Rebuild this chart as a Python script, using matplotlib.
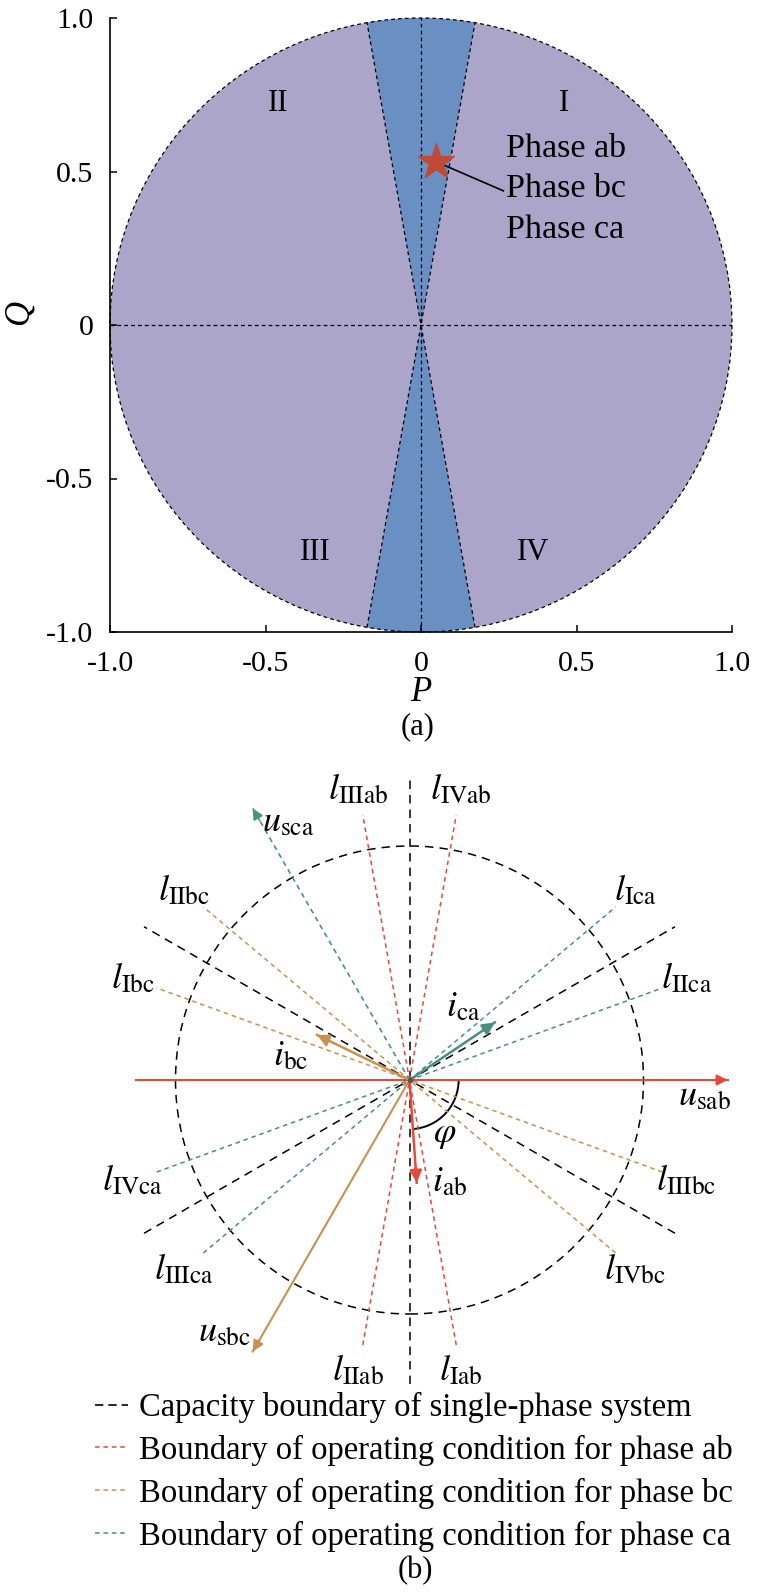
import numpy as np
import matplotlib
matplotlib.use('Agg')
import matplotlib.pyplot as plt
from matplotlib.patches import Circle, Wedge, Arc
from matplotlib.lines import Line2D

plt.rcParams['font.family'] = ['Liberation Serif', 'DejaVu Serif']
plt.rcParams['mathtext.fontset'] = 'stix'

# ---- panel (a) data ----
tick_values = [-1.0, -0.5, 0, 0.5, 1.0]
tick_labels = ['-1.0', '-0.5', '0', '0.5', '1.0']
wedge_half_angle = 10          # deg, blue sector each side of the Q axis
operating_point = (0.048, 0.532)
pointer_end = (0.265, 0.437)
phase_names = ['Phase ab', 'Phase bc', 'Phase ca']
region_names = ['I', 'II', 'III', 'IV']
region_pos = [(0.46, 0.72), (-0.46, 0.72), (-0.34, -0.74), (0.36, -0.74)]

# ---- panel (b) data ----
capacity_angles = [90, 30, 150]
capacity_half_len = [1.30, 1.31, 1.31]
boundary_angles = {'ab': [80, 100], 'bc': [140, 160], 'ca': [20, 40]}
boundary_half_len = 1.15
# label of each end of the boundary lines (direction in deg -> name)
boundary_ends = {80: 'IVab', 260: 'IIab', 100: 'IIIab', 280: 'Iab',
                 140: 'IIbc', 320: 'IVbc', 160: 'Ibc', 340: 'IIIbc',
                 40: 'Ica', 220: 'IIIca', 20: 'IIca', 200: 'IVca'}
voltage_angles = {'ab': 0, 'bc': 240, 'ca': 120}
voltage_len = {'ab': 1.36, 'bc': 1.34, 'ca': 1.34}
usab_tail = 1.17
phi = 86
current_angles = {'ab': -phi, 'bc': -phi - 120, 'ca': -phi + 120}
current_len = 0.44

legend_labels = ['Capacity boundary of single-phase system',
                 'Boundary of operating condition for phase ab',
                 'Boundary of operating condition for phase bc',
                 'Boundary of operating condition for phase ca']

purple = '#aba5c9'
blue = '#6a8fc2'
star_c = '#c04a35'
phase_colors = {'ab': '#e5493a', 'bc': '#c8914f', 'ca': '#48907f'}
fine_dash = (0, (3, 2.5))
big_dash = (0, (5.5, 4))

W, H = 757, 1594
fig = plt.figure(figsize=(W / 100, H / 100), dpi=100)

# ================= (a) =================
ax1 = fig.add_axes([110 / W, 962 / H, 622 / W, 614 / H])
ax1.add_patch(Circle((0, 0), 1, facecolor=purple, edgecolor='none'))
w = wedge_half_angle
for t1, t2 in [(90 - w, 90 + w), (270 - w, 270 + w)]:
    ax1.add_patch(Wedge((0, 0), 1, t1, t2, facecolor=blue, edgecolor='none'))
ax1.add_patch(Circle((0, 0), 1, fill=False, edgecolor='k', lw=0.9,
                     linestyle=fine_dash, clip_on=False))
ax1.plot([-1, 1], [0, 0], color='k', lw=0.9, ls=fine_dash)
ax1.plot([0, 0], [-1, 1], color='k', lw=0.9, ls=fine_dash)
for a in [90 - w, 90 + w]:
    r = np.deg2rad(a)
    ax1.plot([-np.cos(r), np.cos(r)], [-np.sin(r), np.sin(r)],
             color='k', lw=0.9, ls=fine_dash)

ax1.plot([operating_point[0], pointer_end[0]], [operating_point[1], pointer_end[1]],
         color='k', lw=1.2, zorder=4)
ax1.plot(*operating_point, marker='*', ms=27, color=star_c, mec=star_c, zorder=5)
for i, name in enumerate(phase_names):
    ax1.text(0.272, 0.574 - i * 0.1315, name, fontsize=24.5, ha='left', va='center')
for name, (x, y) in zip(region_names, region_pos):
    ax1.text(x, y, name, fontsize=22, ha='center', va='center')

ax1.set_xlim(-1, 1)
ax1.set_ylim(-1, 1)
ax1.set_xticks(tick_values)
ax1.set_xticklabels(tick_labels)
ax1.set_yticks(tick_values)
ax1.set_yticklabels(tick_labels)
for s in ['top', 'right']:
    ax1.spines[s].set_visible(False)
for s in ['left', 'bottom']:
    ax1.spines[s].set_linewidth(1.2)
ax1.tick_params(direction='in', length=5, width=1.1, labelsize=21.5)
ax1.tick_params(axis='x', pad=14)
ax1.tick_params(axis='y', pad=12)
fig.text(421 / W, 1 - 692 / H, 'P', fontstyle='italic', fontsize=25, ha='center', va='center')
fig.text(19 / W, 1 - 312 / H, 'Q', fontstyle='italic', fontsize=25, ha='center', va='center',
         rotation=90)
fig.text(418 / W, 1 - 727 / H, '(a)', fontsize=22, ha='center', va='center')

# ================= (b) =================
R = 234.0
cx, cy = 409.5, 1080.0
top_px = 770
ax2 = fig.add_axes([0, 0, 1, (H - top_px) / H])
ax2.set_xlim(-cx / R, (W - cx) / R)
ax2.set_ylim(-(H - cy) / R, (cy - top_px) / R)
ax2.axis('off')


def polar(ang, r):
    t = np.deg2rad(ang)
    return r * np.cos(t), r * np.sin(t)


ax2.add_patch(Circle((0, 0), 1, fill=False, edgecolor='k', lw=1.1, linestyle=big_dash))
for a, L in zip(capacity_angles, capacity_half_len):
    x, y = polar(a, L)
    ax2.plot([-x, x], [-y, y], color='k', lw=1.1, ls=big_dash)

for ph, angs in boundary_angles.items():
    for a in angs:
        x, y = polar(a, boundary_half_len)
        ax2.plot([-x, x], [-y, y], color=phase_colors[ph], lw=1.1, ls=fine_dash)

for a, name in boundary_ends.items():
    x, y = polar(a, 1.26)
    ax2.text(x, y, r'$l_{\mathrm{%s}}$' % name, fontsize=26, ha='center', va='center')


def arrow(p0, p1, color, ls='-', lw=1.5, ms=16):
    ax2.plot([p0[0], p1[0]], [p0[1], p1[1]], color=color, lw=lw, ls=ls)
    d = np.array(p1) - np.array(p0)
    back = np.array(p1) - d / np.linalg.norm(d) * 0.06
    ax2.annotate('', xy=p1, xytext=tuple(back),
                 arrowprops=dict(arrowstyle='-|>', color=color, lw=lw,
                                 mutation_scale=ms, shrinkA=0, shrinkB=0))


# voltages
arrow(polar(180, usab_tail), polar(voltage_angles['ab'], voltage_len['ab']),
      phase_colors['ab'], lw=1.5)
arrow((0, 0), polar(voltage_angles['bc'], voltage_len['bc']), phase_colors['bc'], lw=1.5)
arrow((0, 0), polar(voltage_angles['ca'], voltage_len['ca']), phase_colors['ca'],
      ls=fine_dash, lw=1.2)
# currents
for ph in ['ab', 'bc', 'ca']:
    arrow((0, 0), polar(current_angles[ph], current_len), phase_colors[ph], lw=1.8, ms=18)

ax2.add_patch(Arc((0, 0), 0.42, 0.42, theta1=-phi, theta2=0, color='k', lw=1.4))
ax2.plot(0, 0, 'o', color='#555555', ms=3, zorder=6)

ax2.text(1.26, -0.07, r'$u_{\mathrm{sab}}$', fontsize=26, ha='center', va='center')
ax2.text(-0.52, 1.10, r'$u_{\mathrm{sca}}$', fontsize=26, ha='center', va='center')
ax2.text(-0.79, -1.08, r'$u_{\mathrm{sbc}}$', fontsize=26, ha='center', va='center')
ax2.text(0.23, 0.31, r'$i_{\mathrm{ca}}$', fontsize=26, ha='center', va='center')
ax2.text(-0.51, 0.10, r'$i_{\mathrm{bc}}$', fontsize=26, ha='center', va='center')
ax2.text(0.17, -0.44, r'$i_{\mathrm{ab}}$', fontsize=26, ha='center', va='center')
ax2.text(0.15, -0.235, r'$\varphi$', fontsize=26, ha='center', va='center')

handles = [Line2D([], [], color='k', lw=1.2, ls=(0, (5, 3)))]
handles += [Line2D([], [], color=phase_colors[p], lw=1.1, ls=fine_dash) for p in ['ab', 'bc', 'ca']]
ax2.legend(handles, legend_labels, loc='upper left', bbox_to_anchor=(95 / W, 202 / H),
           bbox_transform=fig.transFigure, frameon=False, fontsize=23.5,
           handlelength=1.0, handletextpad=0.35, labelspacing=0.36,
           borderpad=0, borderaxespad=0)
fig.text(415 / W, 1 - 1571 / H, '(b)', fontsize=22, ha='center', va='center')

fig.savefig('out.png', dpi=100)
